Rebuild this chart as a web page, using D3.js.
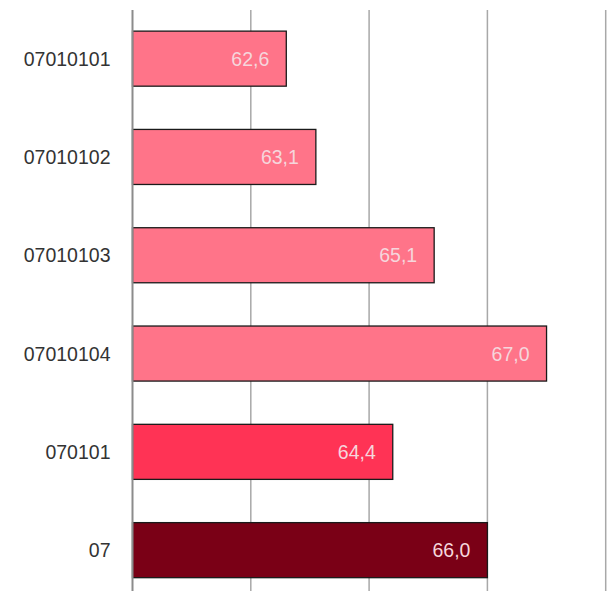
<!DOCTYPE html>
<html>
<head>
<meta charset="utf-8">
<script src="https://cdn.jsdelivr.net/npm/d3@7"></script>
<style>
  html, body { margin: 0; padding: 0; background: #fff; }
  svg { display: block; }
  text { font-family: "Liberation Sans", Arial, sans-serif; }
</style>
</head>
<body>
<div id="chart"></div>
<script>
// Category codes, top to bottom
const categories = ["07010101", "07010102", "07010103", "07010104", "070101", "07"];
// Values per category
const values = [62.6, 63.1, 65.1, 67.0, 64.4, 66.0];
// Fill per category (level of the code)
const fills = ["#FF7489", "#FF7489", "#FF7489", "#FF7489", "#FF3355", "#7A0016"];
// Value axis gridline positions
const gridTicks = [62, 64, 66, 68];

const width = 614, height = 591;

const svg = d3.select("#chart").append("svg")
  .attr("width", width)
  .attr("height", height);

const x = d3.scaleLinear().domain([60, 68]).range([132.5, 605.7]);
const y = d3.scaleBand()
  .domain(categories)
  .range([9.5, 599.3])
  .paddingInner(0.44)
  .paddingOuter(0.22);

const fmt = v => d3.format(".1f")(v).replace(".", ",");

// Vertical gridlines
svg.append("g")
  .selectAll("line")
  .data(gridTicks)
  .join("line")
  .attr("x1", d => x(d)).attr("x2", d => x(d))
  .attr("y1", 10).attr("y2", height)
  .attr("stroke", "#A8A8A8")
  .attr("stroke-width", 1.5);

// Bars
const data = categories.map((c, i) => ({ c, v: values[i], fill: fills[i] }));

svg.append("g")
  .selectAll("rect")
  .data(data)
  .join("rect")
  .attr("x", x(60))
  .attr("y", d => y(d.c))
  .attr("width", d => x(d.v) - x(60))
  .attr("height", y.bandwidth())
  .attr("fill", d => d.fill)
  .attr("stroke", "#1a1a1a")
  .attr("stroke-width", 1.3);

// Value labels inside bar ends
svg.append("g")
  .selectAll("text")
  .data(data)
  .join("text")
  .attr("x", d => x(d.v) - 17)
  .attr("y", d => y(d.c) + y.bandwidth() / 2)
  .attr("dy", "0.36em")
  .attr("text-anchor", "end")
  .attr("font-size", 19.5)
  .attr("fill", "#F6D6DC")
  .text(d => fmt(d.v));

// Category axis
const yAxis = svg.append("g")
  .attr("transform", `translate(${x(60)},0)`)
  .call(d3.axisLeft(y).tickSize(0).tickPadding(22));
yAxis.select(".domain").remove();
yAxis.selectAll("text")
  .attr("font-size", 19.5)
  .attr("fill", "#333333")
  .attr("dy", "0.36em")
  .style("font-family", "'Liberation Sans', Arial, sans-serif");

// Axis baseline
svg.append("line")
  .attr("x1", x(60)).attr("x2", x(60))
  .attr("y1", 10).attr("y2", height)
  .attr("stroke", "#8C8C8C")
  .attr("stroke-width", 2);
</script>
</body>
</html>
